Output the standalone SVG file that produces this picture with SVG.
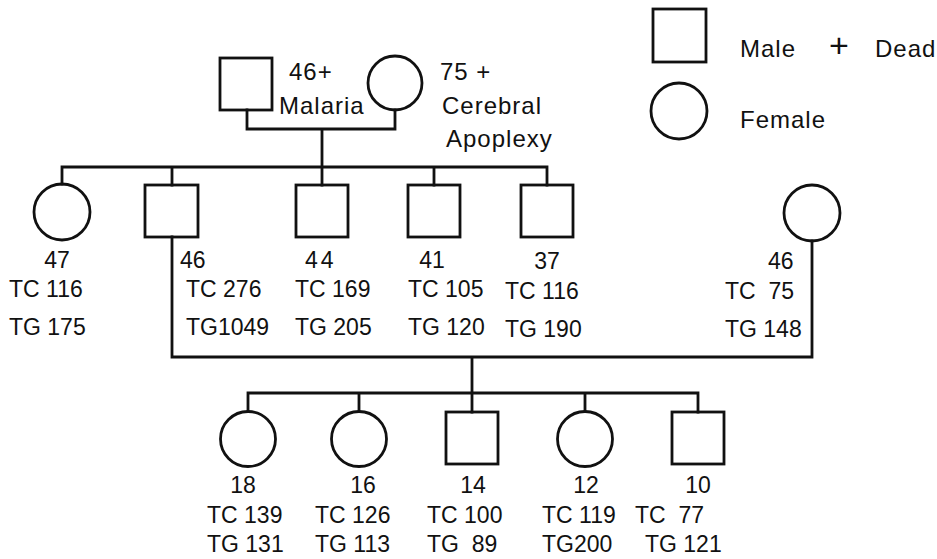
<svg xmlns="http://www.w3.org/2000/svg" width="937" height="559" viewBox="0 0 937 559">
<style>
.s{fill:none;stroke:#111;stroke-width:2.8}
.c{fill:none;stroke:#111;stroke-width:2.8;stroke-linecap:square}
text{font-family:"Liberation Sans",Arial,sans-serif;font-size:23px;fill:#111}
.b{font-size:24px;letter-spacing:1px}
.m{text-anchor:middle}
</style>
<rect width="937" height="559" fill="#fff"/>
<g id="connectors">
<path class="c" d="M247 110V129H395V110M322 129V167M62 167H547M62 167V184M172 167V185M322 167V185M434 167V185M547 167V185"/>
<path class="c" d="M172 237V357H812V241M472 357V393M248 393H698M248 393V411M359 393V411M472 393V412M585 393V411M698 393V412"/>
</g>
<g id="legend">
<rect class="s" x="653" y="9" width="53" height="53"/>
<circle class="s" cx="679" cy="111" r="28"/>
<text class="b" x="740" y="57">Male</text>
<text class="b" x="829" y="57" style="font-size:34px;letter-spacing:0">+</text>
<text class="b" x="875" y="57">Dead</text>
<text class="b" x="740" y="128">Female</text>
</g>
<g id="father">
<rect class="s" x="220" y="58" width="52" height="52"/>
<text class="b" x="289" y="80">46+</text>
<text class="b" x="279" y="114">Malaria</text>
</g>
<g id="mother">
<circle class="s" cx="395" cy="83" r="27"/>
<text class="b" x="440" y="80" xml:space="preserve">75 +</text>
<text class="b" x="442" y="114">Cerebral</text>
<text class="b" x="446" y="147">Apoplexy</text>
</g>
<g id="g2-1">
<circle class="s" cx="62" cy="212" r="28"/>
<text class="m" x="57" y="268">47</text>
<text x="9" y="297">TC 116</text>
<text x="9" y="335">TG 175</text>
</g>
<g id="g2-2">
<rect class="s" x="145" y="185" width="53" height="52"/>
<text x="180" y="268">46</text>
<text x="186" y="297">TC 276</text>
<text x="186" y="335">TG1049</text>
</g>
<g id="g2-3">
<rect class="s" x="296" y="185" width="52" height="52"/>
<text x="305" y="268" style="letter-spacing:3px">44</text>
<text x="295" y="297">TC 169</text>
<text x="295" y="335">TG 205</text>
</g>
<g id="g2-4">
<rect class="s" x="408" y="185" width="52" height="52"/>
<text class="m" x="432" y="268">41</text>
<text x="408" y="297">TC 105</text>
<text x="408" y="335">TG 120</text>
</g>
<g id="g2-5">
<rect class="s" x="521" y="185" width="52" height="52"/>
<text class="m" x="547" y="269">37</text>
<text x="505" y="299">TC 116</text>
<text x="505" y="337">TG 190</text>
</g>
<g id="spouse">
<circle class="s" cx="812" cy="213" r="28"/>
<text x="768" y="269">46</text>
<text x="725" y="299" xml:space="preserve">TC  75</text>
<text x="725" y="337">TG 148</text>
</g>
<g id="g3-1">
<circle class="s" cx="248" cy="439" r="27.5"/>
<text class="m" x="243" y="493">18</text>
<text x="207" y="523">TC 139</text>
<text x="207" y="552">TG 131</text>
</g>
<g id="g3-2">
<circle class="s" cx="359" cy="439" r="27.5"/>
<text class="m" x="363" y="493">16</text>
<text x="315" y="523">TC 126</text>
<text x="315" y="552">TG 113</text>
</g>
<g id="g3-3">
<rect class="s" x="446" y="412" width="52" height="52"/>
<text class="m" x="473" y="493">14</text>
<text x="427" y="523">TC 100</text>
<text x="427" y="552" xml:space="preserve">TG  89</text>
</g>
<g id="g3-4">
<circle class="s" cx="585" cy="439" r="27.5"/>
<text class="m" x="586" y="493">12</text>
<text x="542" y="523">TC 119</text>
<text x="542" y="552">TG200</text>
</g>
<g id="g3-5">
<rect class="s" x="672" y="412" width="52" height="52"/>
<text class="m" x="698" y="493">10</text>
<text x="635" y="523" xml:space="preserve">TC  77</text>
<text x="645" y="552">TG 121</text>
</g>
</svg>
